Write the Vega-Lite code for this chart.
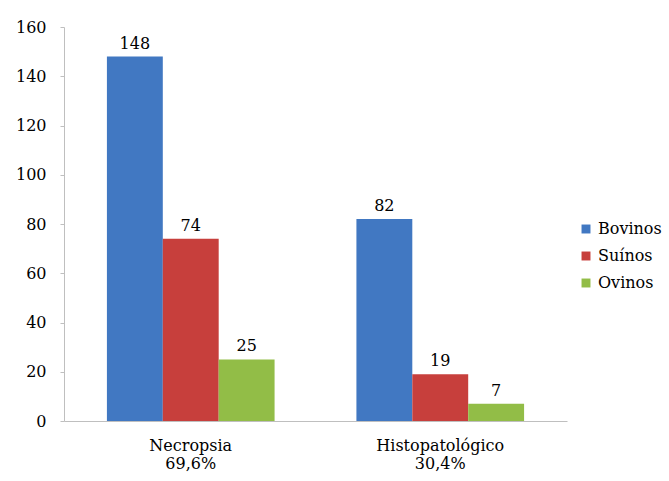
{
  "$schema": "https://vega.github.io/schema/vega-lite/v6.json",
  "width": 503,
  "height": 394,
  "autosize": "none",
  "padding": {"left": 64, "top": 27, "right": 102, "bottom": 60},
  "background": "white",
  "config": {
    "font": "DejaVu Serif",
    "view": {"stroke": null},
    "axis": {"labelFont": "DejaVu Serif", "labelFontSize": 16, "labelColor": "black", "domainColor": "#BFBFBF", "tickColor": "#BFBFBF", "grid": false, "title": null},
    "legend": {"labelFont": "DejaVu Serif", "labelFontSize": 16, "labelColor": "black"}
  },
  "data": {
    "values": [
      {"origem": "Necropsia", "especie": "Bovinos", "n": 148},
      {"origem": "Necropsia", "especie": "Suínos", "n": 74},
      {"origem": "Necropsia", "especie": "Ovinos", "n": 25},
      {"origem": "Histopatológico", "especie": "Bovinos", "n": 82},
      {"origem": "Histopatológico", "especie": "Suínos", "n": 19},
      {"origem": "Histopatológico", "especie": "Ovinos", "n": 7}
    ]
  },
  "encoding": {
    "x": {
      "field": "origem", "type": "nominal", "sort": ["Necropsia", "Histopatológico"],
      "scale": {"paddingInner": 0.328, "paddingOuter": 0.172},
      "axis": {
        "labelAngle": 0, "ticks": false, "labelPadding": 16, "labelLineHeight": 18,
        "labelExpr": "datum.value == 'Necropsia' ? ['Necropsia', '69,6%'] : ['Histopatológico', '30,4%']"
      }
    },
    "xOffset": {"field": "especie", "type": "nominal", "sort": ["Bovinos", "Suínos", "Ovinos"], "scale": {"paddingInner": 0, "paddingOuter": 0}},
    "y": {
      "field": "n", "type": "quantitative",
      "scale": {"domain": [0, 160]},
      "axis": {"values": [0, 20, 40, 60, 80, 100, 120, 140, 160], "tickSize": 4, "labelPadding": 14}
    }
  },
  "layer": [
    {
      "mark": {"type": "bar", "stroke": null},
      "encoding": {
        "color": {
          "field": "especie", "type": "nominal", "sort": ["Bovinos", "Suínos", "Ovinos"],
          "scale": {"domain": ["Bovinos", "Suínos", "Ovinos"], "range": ["#4178C2", "#C73F3C", "#92BD47"]},
          "legend": {"title": null, "orient": "none", "legendX": 514, "legendY": 194, "symbolType": "square", "symbolSize": 80, "symbolStrokeWidth": 0, "rowPadding": 11, "labelOffset": 4}
        }
      }
    },
    {
      "mark": {"type": "text", "baseline": "bottom", "dy": -5, "fontSize": 16, "color": "black", "font": "DejaVu Serif"},
      "encoding": {"text": {"field": "n", "type": "quantitative"}}
    }
  ]
}
